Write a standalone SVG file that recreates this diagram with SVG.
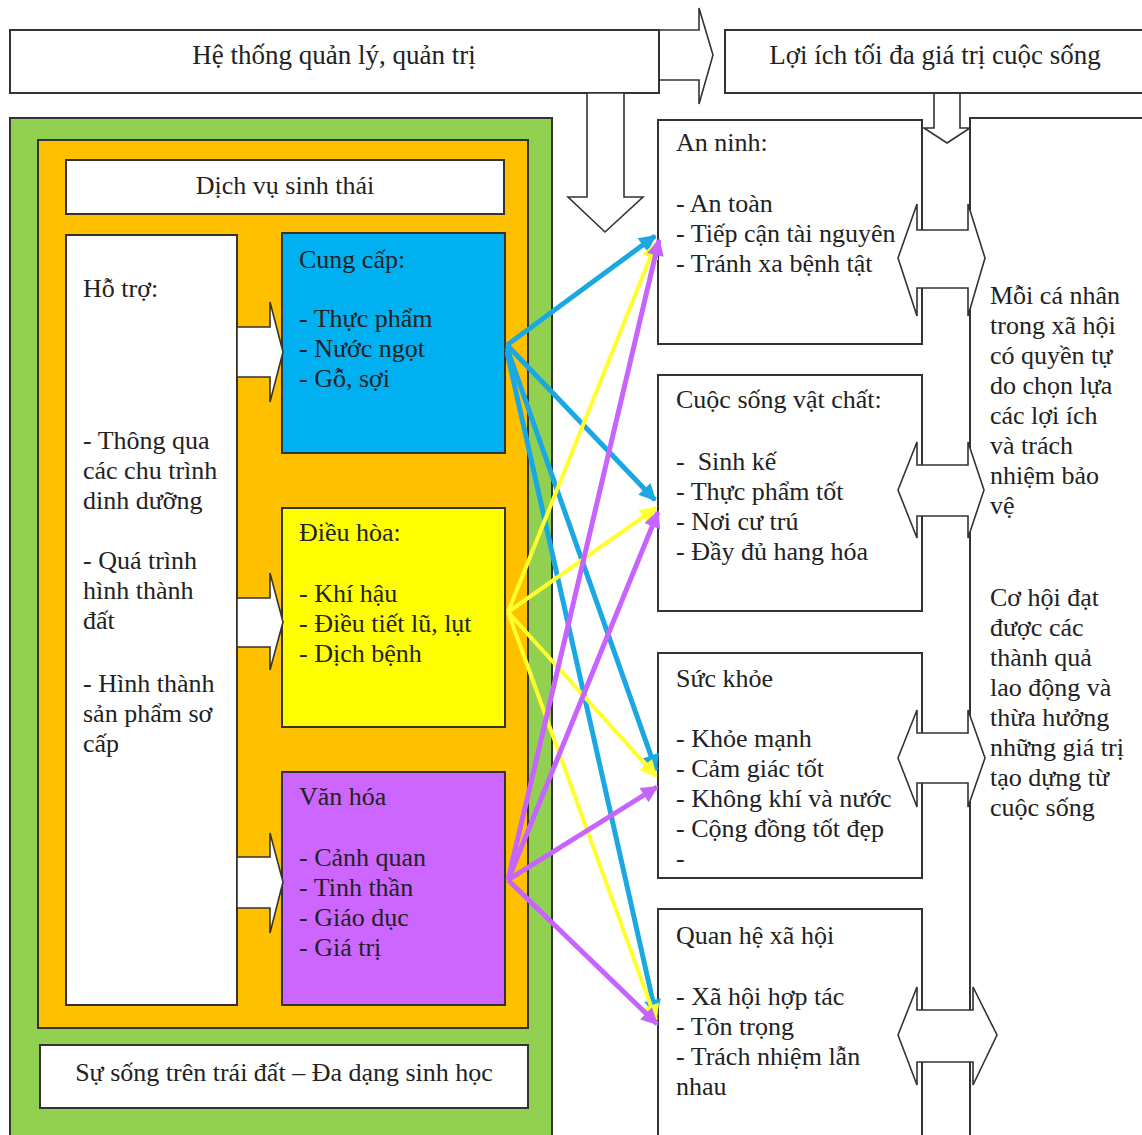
<svg xmlns="http://www.w3.org/2000/svg" width="1142" height="1135" viewBox="0 0 1142 1135">
<style>
text{font-family:"Liberation Serif","Times New Roman",serif;font-size:26px;fill:#222}
.c{text-anchor:middle}
.box{fill:#fff;stroke:#333;stroke-width:2}
.blk{fill:#fff;stroke:#333;stroke-width:1.6;stroke-linejoin:miter}
.cb{fill:none;stroke:#1ba8e2;stroke-width:5}
.cy{fill:none;stroke:#ffff2e;stroke-width:4}
.cp{fill:none;stroke:#c763ff;stroke-width:5}
</style>
<defs>
<marker id="mb" viewBox="0 0 10 10" refX="9" refY="5" markerUnits="userSpaceOnUse" markerWidth="22" markerHeight="17" orient="auto"><path d="M0,0 L10,5 L0,10 z" fill="#1ba8e2"/></marker>
<marker id="my" viewBox="0 0 10 10" refX="9" refY="5" markerUnits="userSpaceOnUse" markerWidth="22" markerHeight="17" orient="auto"><path d="M0,0 L10,5 L0,10 z" fill="#ffff2e"/></marker>
<marker id="mp" viewBox="0 0 10 10" refX="9" refY="5" markerUnits="userSpaceOnUse" markerWidth="22" markerHeight="17" orient="auto"><path d="M0,0 L10,5 L0,10 z" fill="#c763ff"/></marker>
</defs>
<rect width="1142" height="1135" fill="#fff"/>

<g id="top-arrows">
<polygon class="blk" points="640,30 699,30 699,8 713,55 699,104 699,80 640,80"/>
<polygon class="blk" points="934,80 960,80 960,128 970,128 947,143 924,128 934,128"/>
</g>

<g id="governance">
<rect class="box" x="10" y="30" width="649" height="63"/>
<text class="c" x="334" y="64" style="font-size:27px">Hệ thống quản lý, quản trị</text>
</g>
<g id="benefit">
<rect class="box" x="725" y="30" width="440" height="63"/>
<text class="c" x="935" y="64" style="font-size:27px">Lợi ích tối đa giá trị cuộc sống</text>
</g>
<g id="down-arrow">
<polygon class="blk" points="587,93 624,93 624,197 643,197 605,232 568,197 587,197"/>
</g>

<g id="life">
<rect x="10" y="118" width="542" height="1030" fill="#92d050" stroke="#333" stroke-width="2"/>
</g>
<g id="services">
<rect x="38" y="140" width="490" height="888" fill="#ffc000" stroke="#333" stroke-width="2"/>
</g>
<g id="services-title">
<rect class="box" x="66" y="160" width="438" height="54"/>
<text class="c" x="285" y="194">Dịch vụ sinh thái</text>
</g>
<g id="support">
<rect class="box" x="66" y="235" width="171" height="770"/>
<text x="83" y="297">Hỗ trợ:</text>
<text x="83" y="449">- Thông qua</text>
<text x="83" y="479">các chu trình</text>
<text x="83" y="509">dinh dưỡng</text>
<text x="83" y="569">- Quá trình</text>
<text x="83" y="599">hình thành</text>
<text x="83" y="629">đất</text>
<text x="83" y="692">- Hình thành</text>
<text x="83" y="722">sản phẩm sơ</text>
<text x="83" y="752">cấp</text>
</g>
<g id="provisioning">
<rect x="282" y="233" width="223" height="220" fill="#00b0f0" stroke="#333" stroke-width="2"/>
<text x="299" y="268">Cung cấp:</text>
<text x="299" y="327">- Thực phẩm</text>
<text x="299" y="357">- Nước ngọt</text>
<text x="299" y="387">- Gỗ, sợi</text>
</g>
<g id="regulating">
<rect x="282" y="508" width="223" height="219" fill="#ffff00" stroke="#333" stroke-width="2"/>
<text x="299" y="541">Điều hòa:</text>
<text x="299" y="602">- Khí hậu</text>
<text x="299" y="632">- Điều tiết lũ, lụt</text>
<text x="299" y="662">- Dịch bệnh</text>
</g>
<g id="cultural">
<rect x="282" y="772" width="223" height="233" fill="#cc66ff" stroke="#333" stroke-width="2"/>
<text x="299" y="805">Văn hóa</text>
<text x="299" y="866">- Cảnh quan</text>
<text x="299" y="896">- Tinh thần</text>
<text x="299" y="926">- Giáo dục</text>
<text x="299" y="956">- Giá trị</text>
</g>
<g id="support-arrows">
<polygon class="blk" points="237,327 270,327 270,302 283,352 270,402 270,377 237,377"/>
<polygon class="blk" points="237,598 270,598 270,573 283,622 270,670 270,647 237,647"/>
<polygon class="blk" points="237,857 270,857 270,833 283,882 270,933 270,908 237,908"/>
</g>
<g id="biodiversity">
<rect class="box" x="40" y="1045" width="488" height="63"/>
<text class="c" x="284" y="1081">Sự sống trên trái đất – Đa dạng sinh học</text>
</g>

<g id="security">
<rect class="box" x="658" y="120" width="264" height="224"/>
<text x="676" y="151">An ninh:</text>
<text x="676" y="212">- An toàn</text>
<text x="676" y="242">- Tiếp cận tài nguyên</text>
<text x="676" y="272">- Tránh xa bệnh tật</text>
</g>
<g id="material">
<rect class="box" x="658" y="375" width="264" height="236"/>
<text x="676" y="408">Cuộc sống vật chất:</text>
<text x="676" y="470" xml:space="preserve">-  Sinh kế</text>
<text x="676" y="500">- Thực phẩm tốt</text>
<text x="676" y="530">- Nơi cư trú</text>
<text x="676" y="560">- Đầy đủ hang hóa</text>
</g>
<g id="health">
<rect class="box" x="658" y="653" width="264" height="225"/>
<text x="676" y="687">Sức khỏe</text>
<text x="676" y="747">- Khỏe mạnh</text>
<text x="676" y="777">- Cảm giác tốt</text>
<text x="676" y="807">- Không khí và nước</text>
<text x="676" y="837">- Cộng đồng tốt đẹp</text>
<text x="676" y="867">-</text>
</g>
<g id="social">
<rect class="box" x="658" y="909" width="264" height="240"/>
<text x="676" y="944">Quan hệ xã hội</text>
<text x="676" y="1005">- Xã hội hợp tác</text>
<text x="676" y="1035">- Tôn trọng</text>
<text x="676" y="1065">- Trách nhiệm lẫn</text>
<text x="676" y="1095">nhau</text>
</g>
<g id="freedom">
<rect class="box" x="970" y="118" width="200" height="1030"/>
<text x="990" y="304">Mỗi cá nhân</text>
<text x="990" y="334">trong xã hội</text>
<text x="990" y="364">có quyền tự</text>
<text x="990" y="394">do chọn lựa</text>
<text x="990" y="424">các lợi ích</text>
<text x="990" y="454">và trách</text>
<text x="990" y="484">nhiệm bảo</text>
<text x="990" y="514">vệ</text>
<text x="990" y="606">Cơ hội đạt</text>
<text x="990" y="636">được các</text>
<text x="990" y="666">thành quả</text>
<text x="990" y="696">lao động và</text>
<text x="990" y="726">thừa hưởng</text>
<text x="990" y="756">những giá trị</text>
<text x="990" y="786">tạo dựng từ</text>
<text x="990" y="816">cuộc sống</text>
</g>
<g id="double-arrows">
<polygon class="blk" points="898,258 917,204 917,230 968,230 968,204 985,258 968,316 968,288 917,288 917,316"/>
<polygon class="blk" points="898,490 917,442 917,465 968,465 968,442 984,490 968,538 968,516 917,516 917,538"/>
<polygon class="blk" points="898,758 917,710 917,733 968,733 968,710 985,758 968,807 968,783 917,783 917,807"/>
<polygon class="blk" points="898,1035 917,987 917,1010 973,1010 973,987 997,1035 973,1085 973,1062 917,1062 917,1085"/>
</g>

<g id="connectors">
<path class="cb" d="M507,345 L655,236" marker-end="url(#mb)"/>
<path class="cb" d="M507,345 L655,500" marker-end="url(#mb)"/>
<path class="cb" d="M507,348 L656,770" marker-end="url(#mb)"/>
<path class="cb" d="M507,352 L656,1015" marker-end="url(#mb)"/>
<path class="cy" d="M508,612 L656,243" marker-end="url(#my)"/>
<path class="cy" d="M508,612 L656,508" marker-end="url(#my)"/>
<path class="cy" d="M508,612 L656,776" marker-end="url(#my)"/>
<path class="cy" d="M508,612 L656,1020" marker-end="url(#my)"/>
<path class="cp" d="M508,880 L659,240" marker-end="url(#mp)"/>
<path class="cp" d="M508,880 L658,512" marker-end="url(#mp)"/>
<path class="cp" d="M508,880 L657,787" marker-end="url(#mp)"/>
<path class="cp" d="M508,880 L657,1024" marker-end="url(#mp)"/>
</g>
</svg>
